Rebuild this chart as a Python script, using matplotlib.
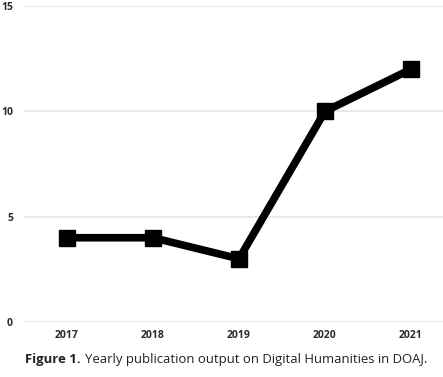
import matplotlib.pyplot as plt

# data
years = [2017, 2018, 2019, 2020, 2021]
counts = [4, 4, 3, 10, 12]
y_ticks = [0, 5, 10, 15]

W, H = 443, 377
fig = plt.figure(figsize=(W / 100, H / 100), dpi=100)

# axes: y=0 at px 322, y=15 at px 6; x from px 24 to right edge
ax = fig.add_axes([24 / W, 1 - 322 / H, 1 - 24 / W, 316 / H])
ax.set_xlim(2016.5, 2016.5 + (W - 24) / 86)
ax.set_ylim(0, 15)

ax.plot(years, counts, color="black", linewidth=5.5, marker="s",
        markersize=11.5, solid_joinstyle="miter", zorder=3, clip_on=False)

ax.set_yticks(y_ticks)
ax.set_xticks(years)
ax.grid(axis="y", color="#e4e4e4", linewidth=1.2)
ax.set_axisbelow(True)
for s in ax.spines.values():
    s.set_visible(False)
ax.tick_params(length=0, labelsize=7.5, labelcolor="#2a2a2a")
ax.tick_params(axis="y", pad=8)
ax.tick_params(axis="x", pad=6)
for lab in ax.get_xticklabels() + ax.get_yticklabels():
    lab.set_fontweight("bold")
    lab.set_family("Open Sans")

# caption below the chart: bold label then the rest of the sentence,
# sized so it spans px 25..430 like the reference
cap_y = 1 - 359 / H
cap_x0, cap_x1 = 25, 430
t1 = fig.text(cap_x0 / W, cap_y, "Figure 1.", ha="left", va="center",
              fontsize=9, fontweight="bold", family="Open Sans", color="#222222")
t2 = fig.text(0, cap_y, "Yearly publication output on Digital Humanities in DOAJ.",
              ha="left", va="center", fontsize=9, family="Open Sans", color="#222222")
r = fig.canvas.get_renderer()
for _ in range(3):
    w = (t1.get_window_extent(r).width + 4 + t2.get_window_extent(r).width)
    fs = t1.get_fontsize() * (cap_x1 - cap_x0) / w
    t1.set_fontsize(fs)
    t2.set_fontsize(fs)
t2.set_x((t1.get_window_extent(r).x1 + 4) / W)

fig.savefig("out.png", dpi=100)
